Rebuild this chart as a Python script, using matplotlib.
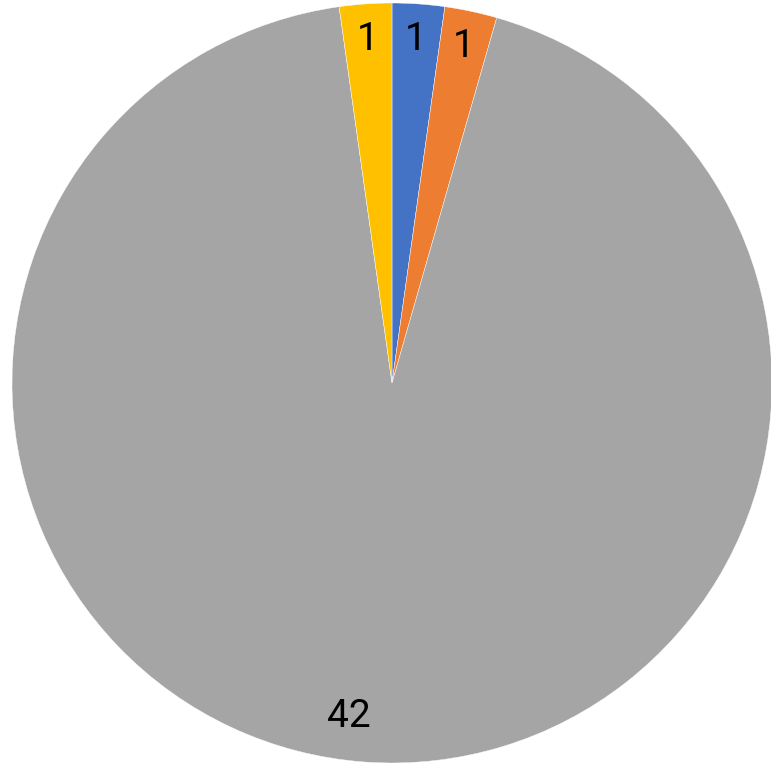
import matplotlib
matplotlib.use("Agg")
import matplotlib.pyplot as plt
import numpy as np

categories = ["A", "B", "C", "D"]
values = [1, 1, 42, 1]
colors = ["#4472C4", "#ED7D31", "#A5A5A5", "#FFC000"]

plt.rcParams['font.family'] = ['Roboto', 'DejaVu Sans']

W, H = 771, 765
fig = plt.figure(figsize=(W / 100, H / 100), dpi=100)
cx, cy, r = 392, 383, 380
ax = fig.add_axes([(cx - r) / W, (H - cy - r) / H, 2 * r / W, 2 * r / H])
wedges, texts = ax.pie(values, colors=colors, startangle=90, counterclock=False,
                       labels=[str(v) for v in values], labeldistance=0.905,
                       wedgeprops=dict(edgecolor='white', linewidth=0.3),
                       textprops=dict(fontsize=28, color='black'), radius=1)
for t in texts:
    t.set_ha('center')
    t.set_va('center')
# nudge the large label like the reference
ang = np.deg2rad(-97.4)
texts[2].set_position((0.885 * np.cos(ang), 0.885 * np.sin(ang)))
ax.set_xlim(-1, 1)
ax.set_ylim(-1, 1)
ax.set_aspect('equal')
ax.axis('off')
fig.savefig("out.png", dpi=100)
